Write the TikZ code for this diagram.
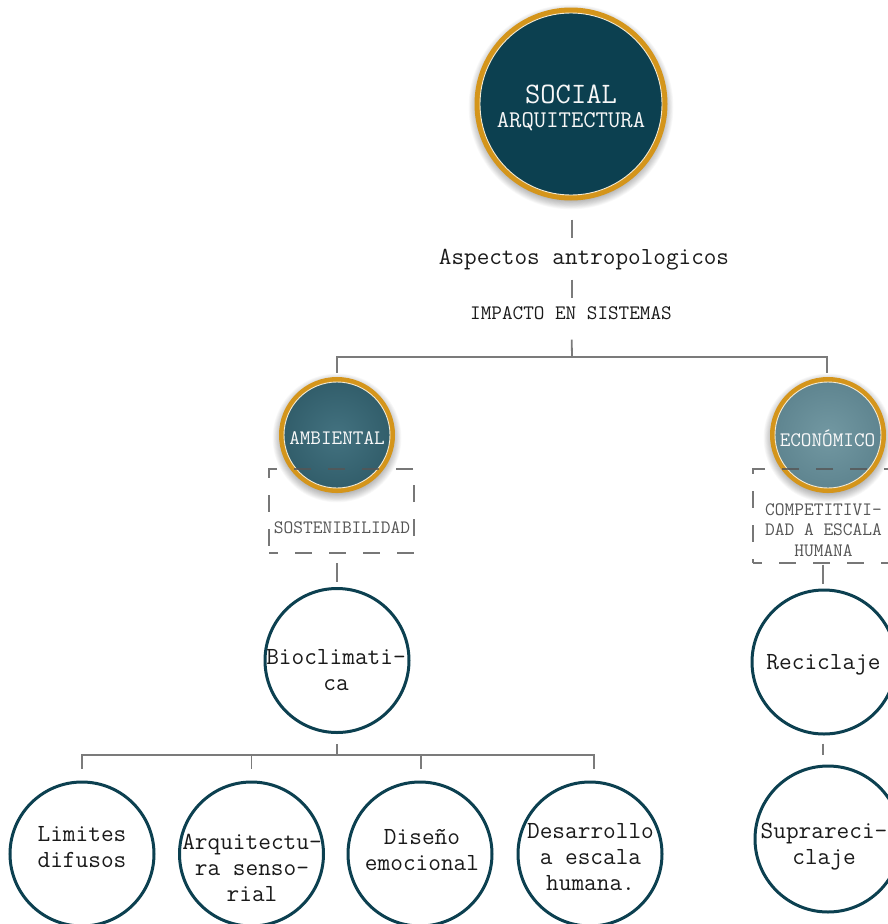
\documentclass[tikz,border=0pt]{standalone}
\usepackage{fontspec}
\usetikzlibrary{calc}
\definecolor{ringgold}{HTML}{D4951B}
\definecolor{deepteal}{HTML}{0C4050}
\definecolor{midtealin}{HTML}{437280}
\definecolor{midtealout}{HTML}{325E6B}
\definecolor{paletealin}{HTML}{7298A2}
\definecolor{paletealout}{HTML}{5F8590}
\definecolor{connc}{HTML}{7B7B7B}
\definecolor{boxc}{HTML}{555555}
\definecolor{ink}{HTML}{1A1A1A}
\newcommand{\mysoftshade}[2]{%
  \foreach \k in {1,...,11}{\fill[black,opacity=0.026] ($(#1)+(0,3)$) circle[radius={(#2+\k*0.85)*1pt}];}}
\begin{document}
\begin{tikzpicture}[x=1pt,y=-1pt,
  conn/.style={draw=connc,line width=1.8pt},
  goldring/.style={circle,fill=ringgold,draw=none,inner sep=0pt},
  innerdisc/.style={circle,draw=white!80!ringgold,line width=0.9pt,inner sep=0pt},
  tealcircle/.style={circle,draw=deepteal,line width=3pt,fill=white,inner sep=0pt,minimum size=144pt},
  dashbox/.style={draw=boxc,draw opacity=0.8,line width=1.5pt,dash pattern=on 17pt off 17pt,dash phase=8pt,inner sep=0pt},
  ctext/.style={font=\ttfamily\fontsize{24.6}{26}\selectfont,text=ink,align=center,inner sep=0pt},
  wtext/.style={font=\ttfamily\fontsize{20.6}{24}\selectfont,text=white!95!gray,inner sep=0pt},
  btext/.style={font=\ttfamily\fontsize{18.9}{20.5}\selectfont,text=boxc,align=center,inner sep=0pt}
]
\useasboundingbox[fill=white] (0,0) rectangle (887,924);

% --- soft shadows
\coordinate (socialc) at (571,104);
\coordinate (ambc) at (337,435);
\coordinate (ecoc) at (828,435);
\mysoftshade{socialc}{93}
\mysoftshade{ambc}{55}
\mysoftshade{ecoc}{55}

% --- top circle
\node[goldring,minimum size=193pt] (social) at (socialc) {};
\node[innerdisc,fill=deepteal,minimum size=182pt] (socialin) at (social) {};
\node[font=\ttfamily\fontsize{29.7}{32}\selectfont,text=white!94!gray,inner sep=0pt] (socialt) at (571,94) {SOCIAL};
\node[font=\ttfamily\fontsize{24}{26}\selectfont,text=white!94!gray,inner sep=0pt] (arqt) at (571,122) {ARQUITECTURA};

% --- labels
\node[font=\ttfamily\fontsize{24.5}{26}\selectfont,text=ink,inner sep=0pt] (asp) at (584,260) {Aspectos antropologicos};
\node[font=\ttfamily\fontsize{20.6}{24}\selectfont,text=ink,inner sep=0pt] (imp) at (571,313) {IMPACTO EN SISTEMAS};

% --- second level circles
\node[goldring,minimum size=116pt] (amb) at (ambc) {};
\node[innerdisc,shading=radial,inner color=midtealin,outer color=midtealout,minimum size=106pt] (ambin) at (amb) {};
\node[wtext] (ambt) at (337,438) {AMBIENTAL};

\node[goldring,minimum size=116pt] (eco) at (ecoc) {};
\node[innerdisc,shading=radial,inner color=paletealin,outer color=paletealout,minimum size=106pt] (ecoin) at (eco) {};
\node[wtext] (ecot) at (827.5,438) {ECONÓMICO};

% --- dashed boxes
\node[dashbox,minimum width=145pt,minimum height=84pt] (sostbox) at (341.5,511) {};
\node[btext] (sost) at (342,528) {SOSTENIBILIDAD};
\node[dashbox,minimum width=142pt,minimum height=94pt] (compbox) at (824,516) {};
\node[btext] (comp) at (823.5,530) {COMPETITIVI-\\DAD A ESCALA\\HUMANA};

% --- third level
\node[tealcircle] (bio) at (337,660.5) {};
\node[ctext] (biot) at (336,670) {Bioclimati-\\ca};
\node[tealcircle] (rec) at (824,662) {};
\node[ctext] (rect) at (823.5,665) {Reciclaje};
\node[tealcircle,minimum size=146pt] (sup) at (828,839) {};
\node[ctext] (supt) at (824,846.5) {Suprareci-\\claje};

% --- bottom row
\node[tealcircle] (lim) at (82,854) {};
\node[ctext] (limt) at (82,847.5) {Limites\\difusos};
\node[tealcircle] (arq) at (251.5,854) {};
\node[ctext] (arqt2) at (252,867.5) {Arquitectu-\\ra senso-\\rial};
\node[tealcircle] (dis) at (420,854) {};
\node[ctext] (dist) at (422,850.5) {Diseño\\emocional};
\node[tealcircle] (des) at (590,854) {};
\node[ctext] (dest) at (590.5,857.5) {Desarrollo\\a escala\\humana.};

% --- connectors
\coordinate (busTop) at (572,357);
\coordinate (busL) at (337,357);
\coordinate (busR) at (827,357);
\draw[conn] ($(social.south)+(0.7,19)$) -- ($(social.south)+(0.7,37)$);
\draw[conn] ($(social.south)+(0.7,79)$) -- ($(social.south)+(0.7,97)$);
\draw[conn] ($(social.south)+(0.7,139)$) -- (busTop);
\draw[conn] ([xshift=-0.9pt]busL) -- ([xshift=0.9pt]busR);
\draw[conn] (busL) -- ($(amb.north)+(0,-4)$);
\draw[conn] (busR) -- ($(eco.north)+(-1,-4)$);
\draw[conn] ($(bio.north)+(0,-24)$) -- ($(bio.north)+(0,-5)$);
\draw[conn] ($(rec.north)+(-1,-24)$) -- ($(rec.north)+(-1,-5)$);
\draw[conn] ($(rec.south)+(-1,8)$) -- ($(rec.south)+(-1,19)$);

\coordinate (b1) at (82,755);
\coordinate (b2) at (251.5,755);
\coordinate (b3) at (421,755);
\coordinate (b4) at (594,755);
\coordinate (bmid) at (337,755);
\draw[conn] ($(bio.south)+(0,10)$) -- (bmid);
\draw[conn] ([xshift=-0.9pt]b1) -- ([xshift=0.9pt]b4);
\draw[conn] (b1) -- ($(lim.north)+(0,-12)$);
\draw[conn] (b2) -- ($(arq.north)+(0,-12)$);
\draw[conn] (b3) -- ($(dis.north)+(1,-12)$);
\draw[conn] (b4) -- ($(des.north)+(4,-12)$);
\end{tikzpicture}
\end{document}
